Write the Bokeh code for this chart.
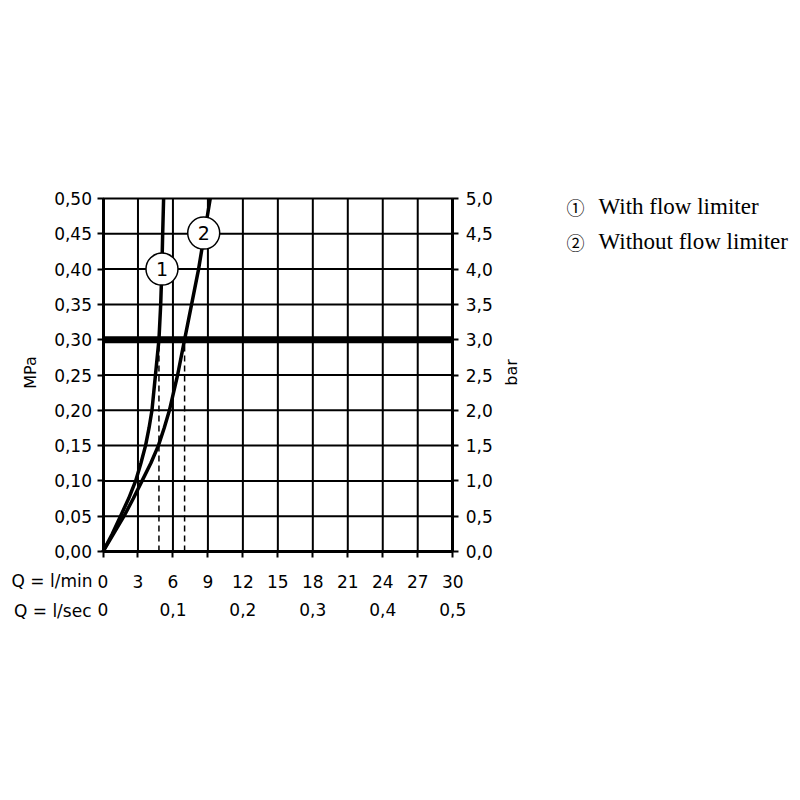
import math
from bokeh.plotting import figure
from bokeh.models import (Range1d, LinearAxis, FixedTicker, CustomJSTickFormatter, Label)
from bokeh.embed import file_html
from bokeh.resources import INLINE
from bokeh.core.properties import value

# ---------------- data ----------------
flow_lmin_ticks = [0, 3, 6, 9, 12, 15, 18, 21, 24, 27, 30]
flow_lsec_ticks = [0, 0.1, 0.2, 0.3, 0.4, 0.5]
mpa_ticks = [0.0, 0.05, 0.10, 0.15, 0.20, 0.25, 0.30, 0.35, 0.40, 0.45, 0.50]
bar_ticks = [0.0, 0.5, 1.0, 1.5, 2.0, 2.5, 3.0, 3.5, 4.0, 4.5, 5.0]

# curve 1: with flow limiter (l/min, MPa)
curve1_flow = [0, 0.8, 1.5, 2.2, 2.8, 3.25, 3.65, 3.95, 4.2, 4.5, 4.8, 4.95, 5.05, 5.12, 5.2]
curve1_mpa = [0, 0.025, 0.05, 0.075, 0.10, 0.125, 0.15, 0.175, 0.20, 0.25, 0.30, 0.35, 0.40, 0.45, 0.50]
# curve 2: without flow limiter
curve2_flow = [0, 0.9, 1.8, 2.6, 3.35, 4.1, 4.75, 5.25, 5.7, 6.05, 6.4, 7.0, 7.6, 8.2, 8.7, 9.2]
curve2_mpa = [0, 0.025, 0.05, 0.075, 0.10, 0.125, 0.15, 0.175, 0.20, 0.225, 0.25, 0.30, 0.35, 0.40, 0.45, 0.50]

limit_mpa = 0.30
limit_flow = [4.8, 7.0]

marker_labels = ["1", "2"]
marker_flow = [5.06, 8.64]
marker_mpa = [0.40, 0.451]

legend_symbols = ["\u2460", "\u2461"]
legend_texts = ["With flow limiter", "Without flow limiter"]

y_left_title = "MPa"
y_right_title = "bar"
x_row_titles = ["Q = l/min", "Q = l/sec"]

FONT = "DejaVu Sans"

# ---------------- layout (pixels on the canvas) ----------------
W, H = 792, 700
X0_PX, X1_PX = 102.5, 452.2     # frame of the chart, left/right
Y0_PX, Y1_PX = 551.0, 198.0     # bottom/top (from the top of the canvas)

x_min, x_max = flow_lmin_ticks[0], flow_lmin_ticks[-1]
y_min, y_max = mpa_ticks[0], mpa_ticks[-1]
kx = (x_max - x_min) / (X1_PX - X0_PX)
ky = (y_max - y_min) / (Y0_PX - Y1_PX)
x_start, x_end = x_min - X0_PX * kx, x_min + (W - X0_PX) * kx
y_start, y_end = y_min - (H - Y0_PX) * ky, y_min + Y0_PX * ky

bar_per_mpa = bar_ticks[-1] / mpa_ticks[-1]
lsec_per_lmin = flow_lsec_ticks[-1] / flow_lmin_ticks[-1]

p = figure(width=W, height=H,
           x_range=Range1d(x_start, x_end), y_range=Range1d(y_start, y_end),
           x_axis_type=None, y_axis_type=None,
           min_border_left=0, min_border_right=0, min_border_top=0, min_border_bottom=0,
           output_backend="svg", toolbar_location=None)
p.background_fill_color = "white"
p.border_fill_color = "white"
p.outline_line_color = None
p.xgrid.visible = False
p.ygrid.visible = False

p.extra_y_ranges = {"bar": Range1d(y_start * bar_per_mpa, y_end * bar_per_mpa)}
p.extra_x_ranges = {"lsec": Range1d(x_start * lsec_per_lmin, x_end * lsec_per_lmin)}

# grid lines, drawn from the tick values
p.segment(x0=flow_lmin_ticks, y0=[y_min] * len(flow_lmin_ticks),
          x1=flow_lmin_ticks, y1=[y_max] * len(flow_lmin_ticks),
          line_color="black", line_width=2)
p.segment(x0=[x_min] * len(mpa_ticks), y0=mpa_ticks,
          x1=[x_max] * len(mpa_ticks), y1=mpa_ticks,
          line_color="black", line_width=2)


def style_axis(ax, standoff):
    ax.axis_line_color = "black"
    ax.axis_line_width = 3
    ax.major_tick_line_color = "black"
    ax.major_tick_line_width = 2
    ax.major_tick_in = 0
    ax.major_tick_out = 6
    ax.minor_tick_line_color = None
    ax.major_label_text_font = FONT
    ax.major_label_text_font_size = "17px"
    ax.major_label_text_color = "black"
    ax.major_label_standoff = standoff


left = LinearAxis(ticker=FixedTicker(ticks=mpa_ticks), fixed_location=x_min,
                  bounds=(y_min, y_max),
                  formatter=CustomJSTickFormatter(code="return tick.toFixed(2).replace('.', ',');"))
style_axis(left, 5)
p.add_layout(left, "left")

right = LinearAxis(y_range_name="bar", ticker=FixedTicker(ticks=bar_ticks), fixed_location=x_max,
                   bounds=(bar_ticks[0], bar_ticks[-1]),
                   formatter=CustomJSTickFormatter(code="return tick.toFixed(1).replace('.', ',');"))
style_axis(right, 7)
p.add_layout(right, "right")

bottom = LinearAxis(ticker=FixedTicker(ticks=flow_lmin_ticks), fixed_location=y_min,
                    bounds=(x_min, x_max),
                    formatter=CustomJSTickFormatter(code="return tick.toFixed(0);"))
style_axis(bottom, 17)
p.add_layout(bottom, "below")

bottom2 = LinearAxis(x_range_name="lsec", ticker=FixedTicker(ticks=flow_lsec_ticks),
                     fixed_location=y_min, bounds=(flow_lsec_ticks[0], flow_lsec_ticks[-1]),
                     formatter=CustomJSTickFormatter(
                         code="return tick == 0 ? '0' : tick.toFixed(1).replace('.', ',');"))
style_axis(bottom2, 51)
bottom2.axis_line_color = None
bottom2.major_tick_line_color = None
bottom2.major_tick_out = 0
p.add_layout(bottom2, "below")

# thick limit line
p.segment(x0=[x_min], y0=[limit_mpa], x1=[x_max], y1=[limit_mpa], line_color="black", line_width=7)

# dashed drop lines
p.segment(x0=limit_flow, y0=[y_min] * len(limit_flow), x1=limit_flow,
          y1=[limit_mpa] * len(limit_flow), line_color="black", line_width=1.5, line_dash="6 4")

# curves
p.line(curve1_flow, curve1_mpa, line_color="black", line_width=3.5)
p.line(curve2_flow, curve2_mpa, line_color="black", line_width=3.5)

# circled curve markers
p.scatter(marker_flow, marker_mpa, size=32, fill_color="white",
          line_color="black", line_width=1.5)
p.text(marker_flow, marker_mpa, text=marker_labels, text_align="center",
       text_baseline="middle", text_font=value(FONT), text_font_size="19px",
       text_color="black")

# axis titles
p.add_layout(Label(x=30, y=H - 372, x_units="screen", y_units="screen", text=y_left_title,
                   angle=math.pi / 2, text_align="center", text_baseline="middle",
                   text_font=FONT, text_font_size="16px", text_color="black"))
p.add_layout(Label(x=511, y=H - 372, x_units="screen", y_units="screen", text=y_right_title,
                   angle=math.pi / 2, text_align="center", text_baseline="middle",
                   text_font=FONT, text_font_size="16px", text_color="black"))

# row labels for the x axes
for txt, px, py in zip(x_row_titles, [92, 91], [580, 610]):
    p.add_layout(Label(x=px, y=H - py, x_units="screen", y_units="screen", text=txt,
                       text_align="right", text_baseline="middle",
                       text_font=FONT, text_font_size="17px", text_color="black"))

# legend
for sym, txt, py in zip(legend_symbols, legend_texts, [206, 241]):
    p.add_layout(Label(x=575, y=H - py, x_units="screen", y_units="screen", text=sym,
                       text_align="center", text_baseline="middle",
                       text_font="Noto Sans CJK JP", text_font_size="18px", text_color="black"))
    p.add_layout(Label(x=598, y=H - py, x_units="screen", y_units="screen", text=txt,
                       text_align="left", text_baseline="middle",
                       text_font="Liberation Serif", text_font_size="23px", text_color="black"))

open("out.html", "w").write(file_html(p, INLINE))
